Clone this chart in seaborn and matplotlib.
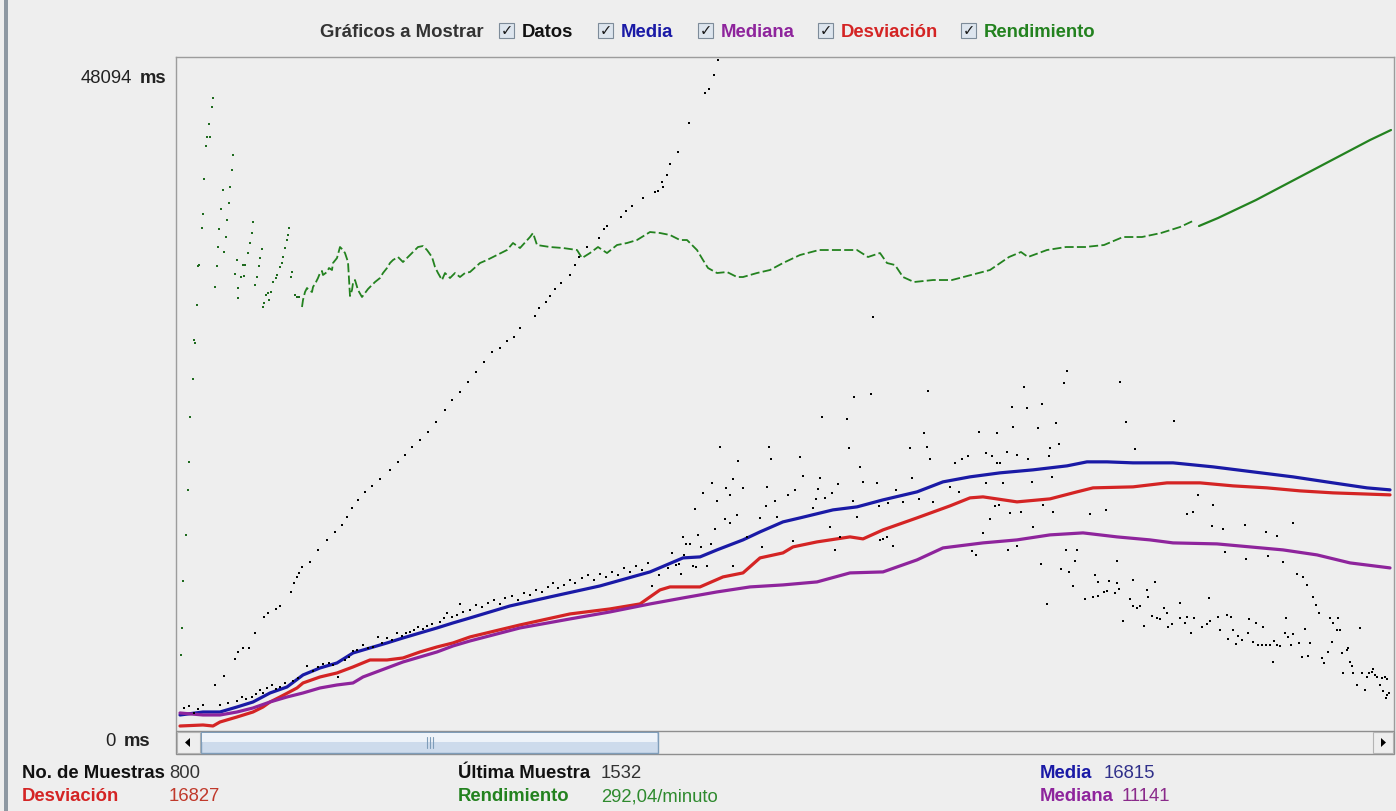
import matplotlib
matplotlib.use("Agg")
import matplotlib.pyplot as plt
from matplotlib.patches import Rectangle, Polygon
from matplotlib.lines import Line2D
import pandas as pd
import seaborn as sns

# ------------------------------------------------------------------
# Datos: (número de muestra, tiempo en ms)
# ------------------------------------------------------------------
escala_max_ms = 48094

datos_diagonal = [
    (39, 3218), (48, 3861), (59, 5077), (62, 5577), (67, 5863), (73, 5863), (79, 6936), (88, 8080),
    (92, 8366), (100, 8652), (104, 8866), (115, 9867), (118, 10511), (121, 10940), (123, 11226),
    (126, 11655), (134, 12012), (142, 12870), (151, 13585), (159, 14157), (166, 14658), (171, 15230),
    (176, 15873), (182, 16445), (189, 17017), (196, 17446), (204, 17947), (214, 18590), (222, 19162),
    (229, 19663), (236, 20235), (244, 20735), (252, 21307), (260, 22022), (269, 22880), (276, 23595),
    (284, 24167), (292, 24882), (300, 25597), (308, 26312), (316, 27027), (324, 27313), (331, 27814),
    (338, 28100), (344, 28743), (359, 29601), (363, 30173), (370, 30602), (374, 31031), (379, 31532),
    (385, 31961), (394, 32533), (399, 33248), (403, 33820), (411, 34535), (423, 35178), (428, 35822),
    (431, 36036), (445, 36680), (450, 37109), (456, 37466), (467, 38038), (479, 38467), (482, 38539),
    (487, 38825), (486, 39182), (491, 39683), (494, 40469), (502, 41327), (513, 43401), (529, 45546),
    (533, 45832), (538, 46833), (542, 47905),
]

datos_inicio = [
    (8, 1573), (13, 1716), (18, 1216), (22, 1502), (27, 1788), (44, 1788), (52, 1931), (61, 2074),
    (66, 2360), (70, 2217), (76, 2360), (80, 2574), (84, 2860), (87, 2646), (91, 3003), (96, 3218),
    (100, 2932), (104, 3075), (109, 3361), (117, 3504), (122, 3718), (131, 4576), (137, 4219),
    (142, 4505), (147, 4719), (153, 4791), (157, 4648), (162, 3790), (169, 5005), (173, 5220),
    (177, 5649), (181, 5720), (187, 6078), (192, 5863), (197, 5935), (202, 6650), (206, 6221),
    (211, 6578), (216, 6435), (221, 6936), (226, 6721), (230, 6936), (234, 7007), (238, 7150),
    (242, 7365), (247, 7222), (251, 7436), (256, 7579), (264, 7722), (268, 8008), (271, 8366),
    (276, 8080), (281, 8223), (284, 9009), (287, 8437), (294, 8580), (300, 8938), (306, 8795),
    (312, 9081), (318, 9295), (324, 9009), (329, 9438), (336, 9581), (342, 9295), (348, 9796),
    (354, 9653), (360, 10010), (366, 9867), (372, 10225), (377, 10511), (382, 10153), (388, 10368),
    (394, 10725), (399, 10511), (406, 10868), (412, 11083), (418, 10725), (424, 11154), (430, 10940),
    (436, 11297), (442, 11083), (448, 11583), (454, 11297), (460, 11726), (466, 11440), (472, 11941),
]

datos_centro = [
    (476, 10296), (483, 11083), (492, 11583), (496, 12656), (500, 11798), (503, 11869), (505, 11154),
    (507, 13800), (508, 12513), (510, 13299), (514, 13299), (517, 11726), (519, 15802), (520, 11655),
    (522, 13943), (525, 13085), (527, 16946), (531, 11726), (535, 13299), (536, 17661), (539, 14372),
    (541, 16374), (544, 20235), (549, 15087), (550, 17303), (554, 14801), (554, 16803), (557, 17947),
    (557, 11726), (561, 15373), (562, 19234), (567, 17303), (571, 13800), (584, 15158), (586, 13085),
    (590, 16016), (591, 17375), (593, 20235), (595, 19377), (599, 16374), (601, 15230), (612, 16803),
    (617, 13514), (619, 17160), (624, 19520), (627, 18161), (637, 15873), (640, 16517), (642, 17232),
    (644, 18018), (646, 22380), (649, 16588), (654, 14515), (656, 16946), (659, 12870), (662, 17589),
    (664, 13800), (671, 22237), (673, 20163), (677, 16374), (678, 23810), (681, 15230), (684, 18805),
    (687, 17732), (695, 24024), (697, 29530), (701, 17661), (703, 16016), (704, 13585), (707, 13657),
    (711, 13800), (712, 16231), (717, 13156), (720, 17160), (727, 16302), (734, 20163), (736, 18018),
    (743, 16517), (748, 21236), (751, 20235), (752, 24239), (754, 19377), (757, 16302), (774, 17375),
    (779, 19091), (783, 17017), (786, 19377), (792, 19591), (796, 12799), (800, 12513), (803, 21307),
    (807, 14086), (810, 19806), (810, 17661), (814, 15087), (816, 19591), (819, 16016), (821, 21236),
    (821, 19091), (823, 16088), (824, 19091), (827, 17661), (831, 19877), (832, 12870), (834, 15516),
    (836, 23095), (837, 21665), (841, 19663), (841, 13156), (845, 15587), (848, 24525), (851, 23023),
    (852, 19377), (856, 17732), (857, 14515), (862, 21593), (865, 11869), (866, 23309), (867, 16088),
    (871, 9009),
]

datos_final = [
    (873, 19591), (874, 20163), (876, 18090), (877, 15587), (880, 21951), (883, 20449), (885, 11512),
    (888, 24811), (890, 12870), (891, 25669), (893, 11297), (897, 10296), (899, 12084), (901, 12870),
    (909, 9367), (914, 15444), (917, 9510), (919, 11083), (922, 10582), (922, 9581), (928, 9867),
    (930, 15730), (931, 9939), (933, 10654), (939, 9796), (941, 10511), (941, 12084), (943, 10082),
    (944, 24882), (947, 7794), (950, 22022), (954, 9367), (957, 10725), (957, 8866), (959, 20092),
    (961, 8723), (964, 8866), (968, 7436), (971, 10010), (972, 9510), (976, 8151), (979, 10582),
    (981, 8008), (984, 7937), (988, 8723), (991, 8366), (992, 7365), (996, 7579), (998, 22094),
    (1004, 9081), (1004, 8008), (1009, 7651), (1011, 8080), (1011, 15444), (1015, 6936), (1017, 15587),
    (1018, 8008), (1022, 16803), (1026, 7365), (1031, 7579), (1033, 9438), (1034, 7794), (1036, 14586),
    (1037, 16088), (1042, 8080), (1044, 7150), (1047, 14372), (1049, 12727), (1051, 8223), (1052, 6507),
    (1055, 8080), (1057, 7150), (1060, 6149), (1062, 6721), (1066, 6435), (1069, 14658), (1070, 12227),
    (1072, 6936), (1073, 7937), (1077, 6292), (1080, 7651), (1082, 6078), (1086, 6078), (1087, 7365),
    (1090, 14157), (1090, 6078), (1092, 12441), (1094, 6078), (1097, 4862), (1098, 6364), (1101, 13871),
    (1101, 6078), (1104, 6006), (1107, 12012), (1109, 6936), (1110, 8008), (1112, 6650), (1115, 6078),
    (1117, 14801), (1117, 6864), (1121, 11154), (1123, 6221), (1126, 5220), (1127, 10940), (1129, 7222),
    (1131, 10368), (1132, 5291), (1134, 6221), (1137, 9510), (1140, 8938), (1143, 8366), (1146, 5148),
    (1148, 4791), (1152, 5577), (1154, 8008), (1156, 6292), (1157, 7651), (1161, 7150), (1162, 8008),
    (1164, 7150), (1166, 5506), (1167, 4076), (1171, 5720), (1172, 5863), (1174, 4862), (1176, 4576),
    (1177, 4076), (1181, 3218), (1184, 7293), (1186, 4076), (1189, 2860), (1191, 3790), (1193, 4076),
    (1196, 4147), (1197, 4362), (1199, 3933), (1201, 3790), (1204, 3218), (1206, 3718), (1207, 2789),
    (1209, 3790), (1210, 2288), (1211, 3647), (1211, 2503), (1213, 2646),
]

media = [
    (4, 1073), (27, 1287), (44, 1287), (61, 1645), (77, 2002), (94, 2646), (111, 3075), (127, 3933),
    (144, 4433), (161, 4791), (177, 5506), (194, 5863), (211, 6221), (227, 6578), (244, 6936),
    (261, 7293), (277, 7651), (294, 8008), (334, 8866), (374, 9510), (424, 10296), (474, 11297),
    (507, 12298), (524, 12370), (541, 12870), (567, 13585), (584, 14157), (607, 14872), (624, 15158),
    (657, 15730), (681, 15945), (707, 16445), (741, 17017), (767, 17732), (794, 18090), (824, 18376),
    (857, 18590), (891, 18876), (911, 19162), (931, 19162), (957, 19091), (997, 19091), (1037, 18805),
    (1077, 18447), (1117, 18090), (1157, 17661), (1191, 17303), (1214, 17160),
]

desviacion = [
    (4, 286), (27, 358), (37, 286), (44, 572), (61, 930), (77, 1287), (87, 1645), (94, 2002),
    (104, 2360), (121, 3003), (127, 3361), (144, 3790), (161, 4076), (177, 4505), (194, 5005),
    (211, 5005), (227, 5148), (244, 5577), (261, 5935), (277, 6221), (294, 6650), (344, 7508),
    (394, 8294), (434, 8652), (464, 9009), (484, 10010), (494, 10225), (524, 10225), (547, 10940),
    (567, 11226), (584, 12298), (607, 12656), (617, 13085), (641, 13442), (674, 13800), (687, 13657),
    (707, 14300), (741, 15158), (774, 16016), (794, 16588), (807, 16660), (841, 16302), (874, 16517),
    (901, 17017), (917, 17303), (957, 17375), (991, 17661), (1024, 17661), (1057, 17446),
    (1091, 17303), (1124, 17089), (1157, 16946), (1214, 16803),
]

mediana = [
    (4, 1216), (27, 1073), (44, 1073), (61, 1287), (77, 1573), (94, 2002), (111, 2360), (127, 2646),
    (144, 3003), (161, 3218), (177, 3361), (187, 3790), (211, 4433), (227, 4862), (244, 5220),
    (261, 5577), (277, 6006), (294, 6364), (344, 7293), (394, 7937), (434, 8437), (474, 9009),
    (507, 9438), (541, 9867), (574, 10225), (607, 10368), (641, 10582), (674, 11226), (707, 11297),
    (741, 12155), (767, 13013), (807, 13371), (841, 13585), (874, 13943), (907, 14086), (941, 13800),
    (974, 13585), (997, 13371), (1041, 13299), (1074, 13085), (1107, 12870), (1141, 12513),
    (1174, 11941), (1214, 11583),
]

rendimiento_inicio = [
    (5, 5360), (6, 7289), (7, 10648), (10, 13935), (12, 17150), (13, 19151), (14, 22367), (17, 25082),
    (18, 27869), (19, 27655), (21, 30371), (22, 33157), (23, 33229), (26, 35873), (27, 36873),
    (28, 39374), (30, 41733), (31, 42376), (34, 42376), (33, 43305), (36, 44520), (37, 45163),
    (39, 31657), (41, 33157), (42, 34515), (43, 35801), (45, 37231), (47, 38588), (48, 34158),
    (50, 35230), (51, 36445), (53, 37659), (54, 38803), (56, 40018), (57, 41090), (59, 32586),
    (61, 33586), (62, 31585), (62, 30871), (65, 32371), (67, 33229), (69, 33229), (68, 32443),
    (72, 34086), (74, 34801), (76, 35516), (77, 36302), (79, 31800), (81, 32371), (83, 33157),
    (84, 33729), (86, 34372), (87, 30228), (88, 30513), (90, 31085), (92, 31228), (93, 30728),
    (95, 31299), (97, 32014), (100, 32300), (101, 32514), (104, 33086), (106, 33372), (107, 33801),
    (109, 34444), (111, 35015), (112, 35373), (113, 35873), (115, 32371), (116, 32729), (119, 31085),
    (121, 30942), (123, 30942),
]

rendimiento_medio = [
    (126, 30228), (127, 30728), (129, 31299), (131, 31585), (133, 31442), (136, 31299), (137, 31657),
    (140, 32014), (142, 32300), (144, 32657), (146, 32800), (147, 32514), (151, 32729), (153, 33015),
    (156, 32872), (157, 33372), (161, 33729), (164, 34515), (167, 34301), (169, 34086), (172, 33443),
    (174, 31014), (176, 31442), (177, 31943), (179, 32157), (182, 31442), (186, 30942), (189, 31228),
    (192, 31514), (196, 31800), (199, 32014), (204, 32300), (207, 32657), (211, 33015), (214, 33372),
    (217, 33586), (222, 33801), (227, 33443), (232, 33801), (237, 34158), (242, 34515), (247, 34587),
    (251, 34301), (256, 33801), (259, 33086), (262, 32657), (266, 32157), (269, 32657), (274, 32300),
    (279, 32657), (284, 32371), (289, 32657), (294, 32729), (304, 33372), (311, 33586), (321, 33944),
    (331, 34301), (337, 34801), (344, 34444), (354, 35230), (357, 35516), (361, 34658), (374, 34515),
    (387, 34444), (401, 34301), (406, 33729), (414, 34086), (422, 34515), (431, 34086), (441, 34658),
    (451, 34801), (461, 35015), (474, 35587), (484, 35516), (494, 35373), (504, 35015), (511, 35015),
    (521, 34301), (527, 33586), (532, 33015), (541, 32657), (551, 32729), (561, 32371), (567, 32371),
    (581, 32657), (594, 32872), (607, 33372), (624, 33944), (643, 34301), (662, 34301), (681, 34301),
    (692, 33801), (704, 34086), (711, 33372), (719, 33229), (727, 32371), (738, 32014), (757, 32157),
    (776, 32157), (795, 32514), (814, 32872), (833, 33801), (845, 34158), (852, 33801), (871, 34301),
    (890, 34515), (909, 34515), (928, 34658), (947, 35230), (966, 35230), (985, 35516), (1004, 35944),
    (1019, 36445),
]

rendimiento_final = [
    (1023, 36016), (1042, 36587), (1080, 37874), (1118, 39303), (1156, 40732), (1194, 42161),
    (1215, 42876),
]

resumen_fila1 = [("No. de Muestras", "800"), ("Última Muestra", "1532"), ("Media", "16815")]
resumen_fila2 = [("Desviación", "16827"), ("Rendimiento", "292,04/minuto"), ("Mediana", "11141")]
opciones = ["Datos", "Media", "Mediana", "Desviación", "Rendimiento"]

# ------------------------------------------------------------------
# Estilo
# ------------------------------------------------------------------
FONDO = "#eeeeee"
C_MEDIA = "#1a1aa6"
C_MEDIANA = "#8e249c"
C_DESV = "#d42424"
C_REND = "#23821f"

sns.set_theme(style="white")
plt.rcParams["font.family"] = ["Liberation Sans", "DejaVu Sans"]
plt.rcParams["figure.facecolor"] = FONDO
plt.rcParams["savefig.facecolor"] = FONDO
plt.rcParams["axes.facecolor"] = FONDO

W, H = 1396, 811
fig = plt.figure(figsize=(W / 100, H / 100), dpi=100)


def fx(px):
    return px / W


def fy(py):
    return 1 - py / H


def caja(x0, y0, x1, y1, **kw):
    fig.add_artist(Rectangle((fx(x0), fy(y1)), fx(x1) - fx(x0), fy(y0) - fy(y1),
                             transform=fig.transFigure, **kw))


def texto(x, y, s, **kw):
    fig.text(fx(x), fy(y), s, **kw)


# Área del gráfico
ax = fig.add_axes([fx(176), fy(730), fx(1394) - fx(176), fy(57) - fy(730)])


def tabla(puntos):
    return pd.DataFrame(puntos, columns=["muestra", "ms"])


for serie, color in [(media, C_MEDIA), (desviacion, C_DESV), (mediana, C_MEDIANA)]:
    sns.lineplot(data=tabla(serie), x="muestra", y="ms", ax=ax, color=color,
                 linewidth=2.3, estimator=None, sort=False)

sns.lineplot(data=tabla(rendimiento_medio), x="muestra", y="ms", ax=ax, color=C_REND,
             linewidth=1.3, estimator=None, sort=False, linestyle=(0, (5, 1.8)))
sns.lineplot(data=tabla(rendimiento_final), x="muestra", y="ms", ax=ax, color=C_REND,
             linewidth=1.6, estimator=None, sort=False)
sns.scatterplot(data=tabla(rendimiento_inicio), x="muestra", y="ms", ax=ax, color="#1e6a1e",
                marker="s", s=4.2, linewidth=0)

datos = tabla(datos_diagonal + datos_inicio + datos_centro + datos_final)
sns.scatterplot(data=datos, x="muestra", y="ms", ax=ax, color="black",
                marker="s", s=4.5, linewidth=0, zorder=4)

ax.set_xlim(0, 1218)
ax.set_ylim(0, escala_max_ms)
ax.set_xticks([])
ax.set_yticks([])
ax.set_xlabel("")
ax.set_ylabel("")
for lado, sp in ax.spines.items():
    sp.set_color("#9c9c9c")
    sp.set_linewidth(1.0)
ax.spines["bottom"].set_visible(False)

# Borde izquierdo de la ventana
caja(4, 0, 8, 811, facecolor="#8e98a2", edgecolor="none")

# Cabecera con casillas
NEGRITA = dict(fontsize=13.3, fontweight="bold", va="baseline", ha="left")
texto(320, 37, "Gráficos a Mostrar", color="#333333", **NEGRITA)
colores_op = ["#111111", C_MEDIA, C_MEDIANA, C_DESV, C_REND]
casillas_x = [499, 598, 698, 818, 961]
for nombre, col, cx in zip(opciones, colores_op, casillas_x):
    caja(cx, 23, cx + 15, 38, facecolor="#dde5ee", edgecolor="#7d8b99", linewidth=0.8)
    texto(cx + 7.5, 31, "✓", ha="center", va="center", fontsize=10.5, color="#1a1a1a",
          fontweight="bold", family=["DejaVu Sans"])
    texto(cx + 23, 37, nombre, color=col, **NEGRITA)

# Etiquetas del eje vertical
texto(166, 83, "ms", color="#222222", fontsize=13.3, fontweight="bold", ha="right", va="baseline")
texto(132, 83, f"{escala_max_ms}", color="#222222", fontsize=13.3, ha="right", va="baseline")
texto(150, 746, "ms", color="#222222", fontsize=13.3, fontweight="bold", ha="right", va="baseline")
texto(116, 746, "0", color="#222222", fontsize=13.3, ha="right", va="baseline")

# Barra de desplazamiento
caja(176, 731, 1394, 754, facecolor=FONDO, edgecolor="#8e8e8e", linewidth=1)
caja(177, 732, 200, 753, facecolor=FONDO, edgecolor="#b4b4b4", linewidth=0.8)
caja(1373, 732, 1393, 753, facecolor=FONDO, edgecolor="#b4b4b4", linewidth=0.8)
caja(201, 732, 658, 753, facecolor="#cddbec", edgecolor="#7f9db9", linewidth=1)
caja(202, 733, 657, 742, facecolor="#eef3f9", edgecolor="none")
for gx in (427, 430, 433):
    fig.add_artist(Line2D([fx(gx), fx(gx)], [fy(737), fy(748)], transform=fig.transFigure,
                          color="#7f9db9", linewidth=0.8))
fig.add_artist(Polygon([[fx(185), fy(742.5)], [fx(190), fy(738)], [fx(190), fy(747)]],
                       closed=True, transform=fig.transFigure, facecolor="black", edgecolor="none"))
fig.add_artist(Polygon([[fx(1381), fy(738)], [fx(1381), fy(747)], [fx(1386), fy(742.5)]],
                       closed=True, transform=fig.transFigure, facecolor="black", edgecolor="none"))

# Resumen inferior
col_et = [("#111111", "#333333"), ("#111111", "#333333"), (C_MEDIA, "#30308a")]
col_et2 = [(C_DESV, "#c0392b"), (C_REND, "#2e8a2e"), (C_MEDIANA, "#8a2a8a")]
pos_et = [22, 458, 1040]
pos_val1 = [169, 601, 1104]
pos_val2 = [169, 601, 1122]
for (et, val), (ce, cv), xe, xv in zip(resumen_fila1, col_et, pos_et, pos_val1):
    texto(xe, 778, et, color=ce, **NEGRITA)
    texto(xv, 778, val, color=cv, fontsize=13.3, ha="left", va="baseline")
for (et, val), (ce, cv), xe, xv in zip(resumen_fila2, col_et2, pos_et, pos_val2):
    texto(xe, 801, et, color=ce, **NEGRITA)
    texto(xv, 801, val, color=cv, fontsize=13.3, ha="left", va="baseline")

fig.savefig("out.png", dpi=100)
